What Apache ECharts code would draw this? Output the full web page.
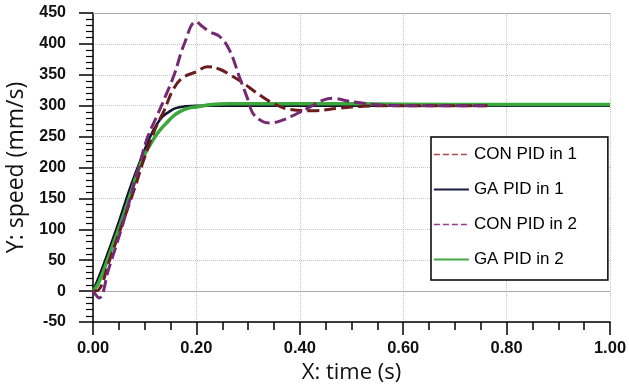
<!DOCTYPE html>
<html>
<head>
<meta charset="utf-8">
<script src="https://cdn.jsdelivr.net/npm/echarts@6/dist/echarts.min.js"></script>
<style>html,body{margin:0;padding:0;background:#fff}#c{width:629px;height:385px}</style>
</head>
<body>
<div id="c"></div>
<script>
var seriesNames = ['CON PID in 1', 'GA PID in 1', 'CON PID in 2', 'GA PID in 2'];
var xTicks = [0, 0.2, 0.4, 0.6, 0.8, 1.0];
var yTicks = [-50, 0, 50, 100, 150, 200, 250, 300, 350, 400, 450];

var tCon1 = [0, 0.011, 0.03, 0.055, 0.08, 0.098, 0.12, 0.138, 0.155, 0.173, 0.2, 0.221, 0.245, 0.265, 0.29, 0.316, 0.348, 0.38, 0.425, 0.478, 0.523, 0.58, 0.65, 0.763];
var vCon1 = [0, 2, 45, 105, 165, 212, 262, 293, 326, 345, 355, 363, 359, 350, 337, 321, 304, 294, 292, 296, 299, 300, 300, 300];

var tGa1 = [0, 0.02, 0.05, 0.07, 0.092, 0.109, 0.122, 0.134, 0.147, 0.16, 0.18, 0.2, 0.25, 0.4, 0.6, 0.8, 1.0];
var vGa1 = [0, 42, 112, 163, 212, 247, 268, 282, 290, 296, 299, 300, 300, 300, 300, 300, 300];

var tCon2 = [0, 0.012, 0.03, 0.06, 0.09, 0.106, 0.123, 0.14, 0.157, 0.177, 0.199, 0.212, 0.225, 0.245, 0.264, 0.283, 0.3, 0.309, 0.329, 0.342, 0.368, 0.394, 0.42, 0.445, 0.465, 0.49, 0.523, 0.56, 0.62, 0.7, 0.763];
var vCon2 = [0, -11, 35, 115, 205, 250, 282, 315, 350, 401, 436, 428, 420, 412, 390, 347, 309, 288, 274, 272, 277, 287, 298, 309, 312, 308, 304, 301, 300, 300, 300];

var tGa2 = [0, 0.01, 0.03, 0.06, 0.095, 0.118, 0.13, 0.141, 0.155, 0.167, 0.185, 0.2, 0.23, 0.264, 0.35, 0.5, 0.7, 0.85, 1.0];
var vGa2 = [0, 12, 55, 125, 212, 247, 261, 271, 283, 290, 296, 298, 302, 303, 303, 303, 302, 302, 302];

function pairs(t, v) { return t.map(function (x, i) { return [x, v[i]]; }); }

var colors = ['#6b1c1c', '#111530', '#742a72', '#3aa83a'];
var legendColors = ['#b04848', '#1a1d40', '#9a3a90', '#44a844'];

var chart = echarts.init(document.getElementById('c'), null, { renderer: 'canvas' });
var baseLabel = { fontFamily: 'Liberation Sans, Arial, sans-serif', fontWeight: 'bold', color: '#111' };
var nameFontX = { fontFamily: 'Open Sans, sans-serif', fontSize: 22, color: '#111' };
var nameFontY = { fontFamily: 'Open Sans, sans-serif', fontSize: 23, color: '#111' };

function legendItem(i, dashed) {
  return {
    name: seriesNames[i],
    itemStyle: { opacity: 0, borderWidth: 0 },
    lineStyle: { width: dashed ? 1.5 : 1.8, color: legendColors[i], type: dashed ? [6, 3] : 'solid', opacity: 1 }
  };
}

chart.setOption({
  animation: false,
  backgroundColor: '#fff',
  grid: { left: 93, right: 19, top: 13, bottom: 63, containLabel: false, outerBoundsMode: 'none' },
  legend: {
    orient: 'vertical',
    left: 431, top: 137,
    padding: [9, 31, 12, 2],
    itemGap: 18,
    itemWidth: 35, itemHeight: 14,
    borderColor: '#000', borderWidth: 1.5,
    backgroundColor: '#fff',
    textStyle: { fontFamily: 'Liberation Sans, Arial, sans-serif', fontSize: 17, color: '#000' },
    data: [legendItem(0, true), legendItem(1, false), legendItem(2, true), legendItem(3, false)]
  },
  xAxis: {
    type: 'value', min: 0, max: 1, interval: 0.2,
    name: 'X: time (s)', nameLocation: 'middle', nameGap: 40, nameTextStyle: nameFontX,
    axisLine: { onZero: false, lineStyle: { color: '#000', width: 1.5 } },
    axisTick: { length: 13, lineStyle: { color: '#000', width: 1.5 } },
    minorTick: { show: true, splitNumber: 4, length: 8, lineStyle: { color: '#000', width: 1.5 } },
    axisLabel: Object.assign({ margin: 18, fontSize: 16.5, formatter: function (v) { return v.toFixed(2); } }, baseLabel),
    splitLine: { show: true, lineStyle: { color: '#c4c4c4', type: 'dotted', width: 1 } }
  },
  yAxis: {
    type: 'value', min: -50, max: 450, interval: 50,
    name: 'Y: speed (mm/s)', nameLocation: 'middle', nameGap: 65, nameTextStyle: nameFontY,
    axisLine: { lineStyle: { color: '#000', width: 1.5 } },
    axisTick: { length: 14, lineStyle: { color: '#000', width: 1.5 } },
    minorTick: { show: true, splitNumber: 5, length: 7, lineStyle: { color: '#000', width: 1.2 } },
    axisLabel: Object.assign({ margin: 27, fontSize: 16 }, baseLabel),
    splitLine: { show: true, lineStyle: { color: '#c4c4c4', type: 'dotted', width: 1 } }
  },
  series: [
    {
      name: seriesNames[1], type: 'line', data: pairs(tGa1, vGa1), smooth: 0.4, symbol: 'none', z: 3,
      color: colors[1], lineStyle: { color: colors[1], width: 2.5 },
      markLine: {
        silent: true, symbol: 'none', label: { show: false },
        lineStyle: { color: '#a8a8a8', type: 'solid', width: 1.2 },
        data: [{ yAxis: 0 }, { yAxis: 450 }]
      }
    },
    {
      name: seriesNames[3], type: 'line', data: pairs(tGa2, vGa2), smooth: 0.4, symbol: 'none', z: 4,
      color: colors[3], lineStyle: { color: colors[3], width: 3.5 }
    },
    {
      name: seriesNames[0], type: 'line', data: pairs(tCon1, vCon1), smooth: 0.4, symbol: 'none', z: 5,
      color: colors[0], lineStyle: { color: colors[0], width: 3, type: [12, 5] }
    },
    {
      name: seriesNames[2], type: 'line', data: pairs(tCon2, vCon2), smooth: 0.4, symbol: 'none', z: 6,
      color: colors[2], lineStyle: { color: colors[2], width: 3, type: [12, 5] }
    }
  ]
});
</script>
</body>
</html>
